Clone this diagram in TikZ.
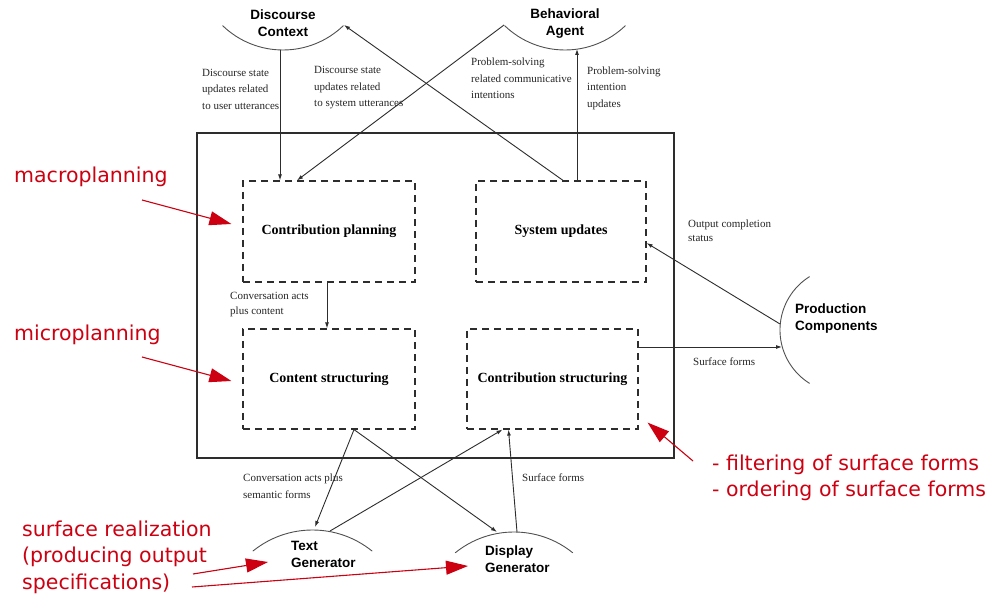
\documentclass[tikz,border=0pt]{standalone}
\usepackage{fontspec}
\setmainfont{Liberation Serif}
\newfontfamily\agentfont{Liberation Sans}
\newfontfamily\notefont{DejaVu Sans}
\usepackage{tikz}
\usetikzlibrary{arrows.meta}
\definecolor{linegray}{RGB}{45,45,45}
\definecolor{arcgray}{RGB}{80,80,80}
\definecolor{notered}{RGB}{204,0,17}
\newcommand{\agentarc}[5]{\draw[arcgray, line width=0.9pt] (#1,#2) ++(#4:#3) arc(#4:#5:#3);}
\tikzset{
  module/.style={draw=linegray, line width=1.2pt, dash pattern=on 7pt off 5pt, inner sep=0pt,
    font=\fontsize{14}{16}\selectfont\bfseries},
  agent/.style={inner sep=0pt, align=left, font=\agentfont\fontsize{13.5}{17}\selectfont\bfseries},
  flowtext/.style={inner sep=0pt, anchor=west, align=left, text=black!85,
    font=\fontsize{11}{16.5}\selectfont},
  arr/.style={draw=linegray, line width=0.9pt, -{Latex[length=6pt,width=4pt]}},
  redtext/.style={inner sep=0pt, align=left, text=notered,
    font=\notefont\fontsize{20.5}{26.5}\selectfont},
  redarr/.style={draw=notered, line width=1.1pt, -{Triangle[length=22pt,width=14pt]}}
}

\begin{document}
\begin{tikzpicture}[x=1pt,y=1pt]
    \fill[white] (0,0) rectangle (994,595);
    \useasboundingbox (0,0) rectangle (994,595);
    %
    \draw[linegray, line width=1.3pt] (197,137) rectangle (674,462);

    \node[module, minimum width=172pt, minimum height=101pt] (cplan) at (329,363.5) {Contribution planning};
    \node[module, minimum width=170pt, minimum height=101pt] (sysupd) at (561,363.5) {System updates};
    \node[module, minimum width=172pt, minimum height=100pt] (cstruct) at (329,216) {Content structuring};
    \node[module, minimum width=171pt, minimum height=100pt] (cbstruct) at (552.5,216) {Contribution structuring};
    %
    \agentarc{283}{632}{87}{226}{314}
    \agentarc{565}{632}{87}{226}{314}
    \agentarc{312.5}{-29.8}{94.8}{51}{129}
    \agentarc{514}{-30.4}{93.4}{51}{129}
    \agentarc{843}{265}{63}{122}{238}

    \node[agent, align=center] (dcText) at (283,571.5) {Discourse\\Context};
    \node[agent, align=center] (baText) at (565,571.5) {Behavioral\\Agent};
    \node[agent, anchor=west] (tgText) at (291,40.5) {Text\\Generator};
    \node[agent, anchor=west] (dgText) at (485,35.5) {Display\\Generator};
    \node[agent, anchor=west] (pcText) at (795,276) {Production\\Components};

    \coordinate (dcFoot) at (280,545);
    \coordinate (dcTip) at (344,570);
    \coordinate (baTip) at (504,570);
    \coordinate (baFoot) at (577,546);
    \coordinate (tgTop) at (315,68);
    \coordinate (tgOut) at (330,64);
    \coordinate (dgIn) at (497,63);
    \coordinate (dgOut) at (517,63);
    \coordinate (pcOut) at (780,271);
    \coordinate (pcIn) at (782,248);
    %
    \draw[arr] (dcFoot) -- (dcFoot |- cplan.north);
    \draw[arr] ([xshift=2pt]sysupd.north) -- (dcTip);
    \draw[arr] (baTip) -- ([xshift=-32pt]cplan.north);
    \draw[arr] ([xshift=16pt]sysupd.north) -- (baFoot);
    \draw[arr] ([xshift=-2pt]cplan.south) -- ([xshift=-2pt]cstruct.north);
    \draw[arr] (pcOut) -- ([yshift=-11.5pt]sysupd.east);
    \draw[arr] ([yshift=32pt]cbstruct.east) -- (pcIn);
    \draw[arr] ([xshift=25pt]cstruct.south) -- (tgTop);
    \draw[arr] ([xshift=25pt]cstruct.south) -- (dgIn);
    \draw[arr] (tgOut) -- ([xshift=-50pt]cbstruct.south);
    \draw[arr] (dgOut) -- ([xshift=-44pt]cbstruct.south);

    \node[flowtext] (userUpd) at (202,506) {Discourse state\\updates related\\to user utterances};
    \node[flowtext] (sysUtt) at (314,507) {Discourse state\\updates related\\to system utterances};
    \node[flowtext] (psIntent) at (471,516.5) {Problem-solving\\related communicative\\intentions};
    \node[flowtext] (psUpd) at (587,507) {Problem-solving\\intention\\updates};
    \node[flowtext, font=\fontsize{11}{15}\selectfont] (convActs) at (230,290.5) {Conversation acts\\plus content};
    \node[flowtext, font=\fontsize{11}{14.3}\selectfont] (outStatus) at (688,364) {Output completion\\status};
    \node[flowtext] (sfRight) at (693,233) {Surface forms};
    \node[flowtext] (convSem) at (243,109) {Conversation acts plus\\semantic forms};
    \node[flowtext] (sfBottom) at (522,117) {Surface forms};
    %
    \node[redtext, anchor=base west] (macro) at (14,412) {macroplanning};
    \node[redtext, anchor=base west] (micro) at (14,254) {microplanning};
    \node[redtext, anchor=west] (surf) at (22,38) {surface realization\\(producing output\\specifications)};
    \node[redtext, anchor=west] (filt) at (712,117) {- filtering of surface forms\\- ordering of surface forms};

    \coordinate (macroTail) at (142,395);
    \coordinate (microTail) at (142,238);
    \coordinate (tgTail) at (193,21);
    \coordinate (dgTail) at (192,8);
    \coordinate (filtTail) at (693,134);
    \draw[redarr] (macroTail) -- ([shift={(-11pt,7.5pt)}]cplan.west);
    \draw[redarr] (microTail) -- ([shift={(-11pt,-2pt)}]cstruct.west);
    \draw[redarr] (tgTail) -- ([shift={(-23pt,-7.5pt)}]tgText.west);
    \draw[redarr] (dgTail) -- ([shift={(-17pt,-6.5pt)}]dgText.west);
    \draw[redarr] (filtTail) -- ([shift={(9pt,7pt)}]cbstruct.south east);
\end{tikzpicture}
\end{document}
